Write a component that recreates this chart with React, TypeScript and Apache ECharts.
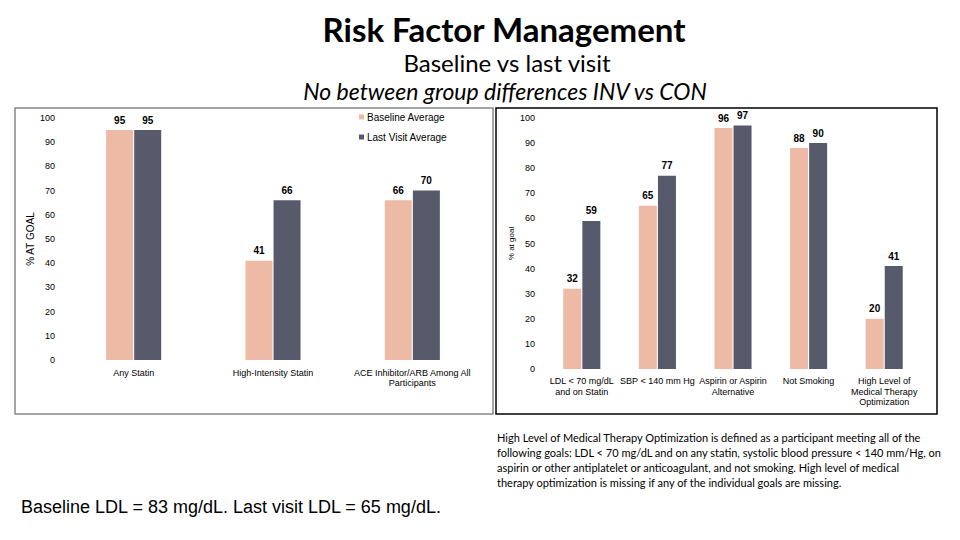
import React, { useEffect, useRef } from "react";
import * as echarts from "echarts";

const leftCategories = ["Any Statin", "High-Intensity Statin", "ACE Inhibitor/ARB Among All\nParticipants"];
const leftBaseline = [95, 41, 66];
const leftLastVisit = [95, 66, 70];

const rightCategories = [
  "LDL < 70 mg/dL\nand on Statin",
  "SBP < 140 mm Hg",
  "Aspirin or Aspirin\nAlternative",
  "Not Smoking",
  "High Level of\nMedical Therapy\nOptimization",
];
const rightBaseline = [32, 65, 96, 88, 20];
const rightLastVisit = [59, 77, 97, 90, 41];

const seriesNames = ["Baseline Average", "Last Visit Average"];

const titleText = "Risk Factor Management";
const subtitleText = "Baseline vs last visit";
const noteText = "No between group differences INV vs CON";
const footnoteLines = [
  "High Level of Medical Therapy Optimization is defined as a participant meeting all of the",
  "following goals: LDL < 70 mg/dL and on any statin, systolic blood pressure < 140 mm/Hg, on",
  "aspirin or other antiplatelet or anticoagulant, and not smoking. High level of medical",
  "therapy optimization is missing if any of the individual goals are missing.",
];
const ldlText = "Baseline LDL = 83 mg/dL. Last visit LDL = 65 mg/dL.";

const PINK = "#EDBBA5";
const DARK = "#575A6B";
const AX_FONT = "'Liberation Sans', Arial, sans-serif";
const CAL_FONT = "Lato, 'Open Sans', sans-serif";

export default function App() {
  const ref = useRef<HTMLDivElement>(null);
  useEffect(() => {
    if (!ref.current) return;
    const chart = echarts.init(ref.current, null, { renderer: "svg" });
    const axisLabel = { fontSize: 9, color: "#000", fontFamily: AX_FONT };
    const valueLabel = {
      show: true,
      position: "top" as const,
      distance: 5,
      fontSize: 10,
      fontWeight: "bold" as const,
      color: "#000",
      fontFamily: AX_FONT,
    };
    const yAxisBase = {
      type: "value" as const,
      min: 0,
      max: 100,
      interval: 10,
      axisLine: { show: false },
      axisTick: { show: false },
      splitLine: { show: false },
      axisLabel: { ...axisLabel, margin: 9 },
      nameLocation: "middle" as const,
      nameGap: 29,
    };
    chart.setOption({
      animation: false,
      backgroundColor: "#fff",
      grid: [
        { left: 64, right: 478, top: 118, bottom: 180 },
        { left: 544, right: 38, top: 118, bottom: 171 },
      ],
      legend: {
        orient: "vertical",
        left: 354,
        top: 107,
        itemWidth: 5,
        itemHeight: 5,
        itemGap: 10,
        icon: "rect",
        data: seriesNames,
        textStyle: { fontSize: 10, color: "#000", fontFamily: AX_FONT, padding: [0, 0, 0, -2] },
      },
      xAxis: [
        {
          type: "category",
          gridIndex: 0,
          data: leftCategories,
          axisLine: { show: false },
          axisTick: { show: false },
          axisLabel: { ...axisLabel, margin: 8, lineHeight: 10, interval: 0 },
        },
        {
          type: "category",
          gridIndex: 1,
          data: rightCategories,
          axisLine: { show: false },
          axisTick: { show: false },
          axisLabel: { ...axisLabel, margin: 7, lineHeight: 10.5, interval: 0 },
        },
      ],
      yAxis: [
        {
          ...yAxisBase,
          gridIndex: 0,
          name: "% AT GOAL",
          nameTextStyle: { fontSize: 10, color: "#000", fontFamily: AX_FONT },
        },
        {
          ...yAxisBase,
          gridIndex: 1,
          name: "% at goal",
          nameTextStyle: { fontSize: 8, color: "#000", fontFamily: AX_FONT },
        },
      ],
      series: [
        {
          name: seriesNames[0],
          type: "bar",
          xAxisIndex: 0,
          yAxisIndex: 0,
          data: leftBaseline,
          barWidth: 27,
          barGap: "4%",
          itemStyle: { color: PINK },
          label: valueLabel,
        },
        {
          name: seriesNames[1],
          type: "bar",
          xAxisIndex: 0,
          yAxisIndex: 0,
          data: leftLastVisit,
          barWidth: 27,
          barGap: "4%",
          itemStyle: { color: DARK },
          label: valueLabel,
        },
        {
          name: seriesNames[0],
          type: "bar",
          xAxisIndex: 1,
          yAxisIndex: 1,
          data: rightBaseline,
          barWidth: 18,
          barGap: "6%",
          itemStyle: { color: PINK },
          label: valueLabel,
        },
        {
          name: seriesNames[1],
          type: "bar",
          xAxisIndex: 1,
          yAxisIndex: 1,
          data: rightLastVisit,
          barWidth: 18,
          barGap: "6%",
          itemStyle: { color: DARK },
          label: valueLabel,
        },
      ],
      graphic: [
        {
          type: "rect",
          shape: { x: 15, y: 108, width: 478, height: 306 },
          style: { fill: "none", stroke: "#888", lineWidth: 1.5 },
          silent: true,
        },
        {
          type: "rect",
          shape: { x: 496, y: 108, width: 441, height: 306 },
          style: { fill: "none", stroke: "#000", lineWidth: 1.5 },
          silent: true,
        },
        {
          type: "text",
          x: 504,
          y: 29,
          style: {
            text: titleText,
            fontSize: 33,
            fontWeight: "bold",
            fontFamily: CAL_FONT,
            fill: "#000",
            align: "center",
            verticalAlign: "middle",
          },
        },
        {
          type: "text",
          x: 507,
          y: 62,
          style: {
            text: subtitleText,
            fontSize: 24,
            fontFamily: CAL_FONT,
            fill: "#000",
            align: "center",
            verticalAlign: "middle",
          },
        },
        {
          type: "text",
          x: 505,
          y: 91,
          style: {
            text: noteText,
            fontSize: 23,
            fontStyle: "italic",
            fontFamily: CAL_FONT,
            fill: "#000",
            align: "center",
            verticalAlign: "middle",
          },
        },
        ...footnoteLines.map((line, i) => ({
          type: "text",
          x: 497,
          y: 437 + i * 15,
          style: {
            text: line,
            fontSize: 11,
            fontFamily: CAL_FONT,
            fill: "#000",
            align: "left",
            verticalAlign: "middle",
          },
        })),
        {
          type: "text",
          x: 21,
          y: 507,
          style: {
            text: ldlText,
            fontSize: 18,
            fontFamily: AX_FONT,
            fill: "#000",
            align: "left",
            verticalAlign: "middle",
          },
        },
      ],
    });
    return () => chart.dispose();
  }, []);
  return (
    <div
      ref={ref}
      style={{ position: "fixed", left: 0, top: 0, width: 960, height: 540, background: "#fff" }}
    />
  );
}
